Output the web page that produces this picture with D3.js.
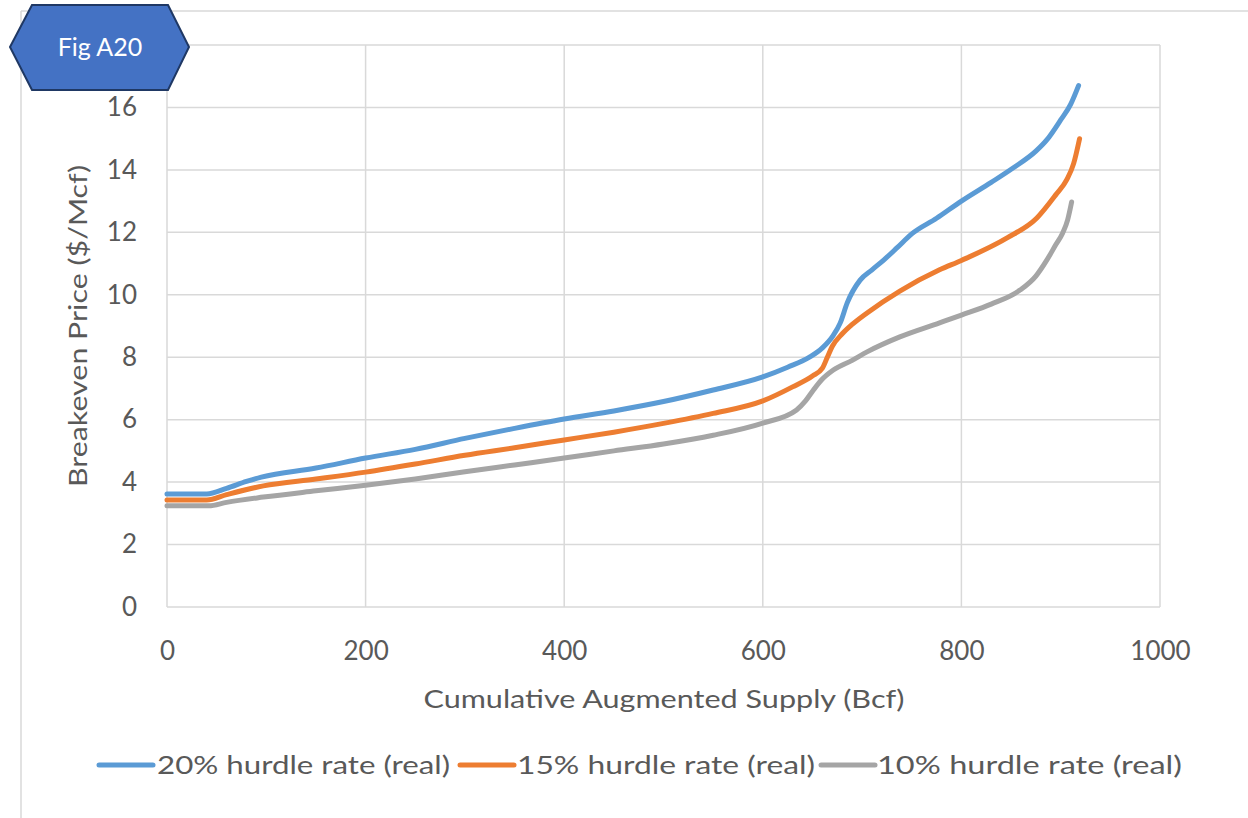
<!DOCTYPE html>
<html>
<head>
<meta charset="utf-8">
<script src="https://cdn.jsdelivr.net/npm/d3@7"></script>
<style>
  html, body { margin: 0; padding: 0; background: #fff; }
  svg { display: block; font-family: Lato, "Open Sans", sans-serif; }
</style>
</head>
<body>
<svg id="chart" width="1248" height="818"></svg>
<script>
// Breakeven price supply curves by hurdle rate
const seriesNames = ["20% hurdle rate (real)", "15% hurdle rate (real)", "10% hurdle rate (real)"];
const seriesColors = ["#5B9BD5", "#ED7D31", "#A5A5A5"];

// Cumulative supply (Bcf) and breakeven price ($/Mcf) for each curve
const supply20 = [0, 40, 60, 80, 95, 150, 200, 250, 300, 350, 400, 450, 500, 550, 600, 625, 647, 660, 671, 678, 685, 698, 710, 722, 735, 750, 775, 800, 830, 852, 875, 886, 900, 910, 918];
const price20  = [3.62, 3.62, 3.8, 4.02, 4.16, 4.45, 4.77, 5.05, 5.4, 5.72, 6.02, 6.28, 6.58, 6.95, 7.37, 7.68, 8.0, 8.3, 8.7, 9.1, 9.74, 10.47, 10.8, 11.12, 11.5, 11.95, 12.45, 13.0, 13.6, 14.06, 14.6, 14.96, 15.6, 16.1, 16.7];

const supply15 = [0, 40, 60, 97, 150, 200, 250, 300, 350, 400, 450, 500, 550, 600, 630, 650, 660, 665, 670, 680, 690, 705, 738, 778, 800, 846, 876, 895, 906, 913, 919];
const price15  = [3.43, 3.43, 3.6, 3.88, 4.1, 4.32, 4.58, 4.86, 5.1, 5.35, 5.6, 5.88, 6.2, 6.6, 7.05, 7.4, 7.65, 8.0, 8.35, 8.75, 9.05, 9.42, 10.12, 10.8, 11.1, 11.82, 12.46, 13.2, 13.68, 14.2, 15.0];

const supply10 = [0, 42, 60, 97, 150, 200, 250, 300, 350, 400, 450, 500, 550, 600, 634, 643, 651, 660, 671, 690, 705, 738, 778, 800, 830, 859, 875, 886, 895, 902, 907, 911];
const price10  = [3.24, 3.24, 3.35, 3.52, 3.72, 3.9, 4.1, 4.33, 4.55, 4.77, 5.0, 5.22, 5.5, 5.89, 6.31, 6.6, 6.95, 7.3, 7.59, 7.9, 8.17, 8.65, 9.1, 9.35, 9.7, 10.15, 10.6, 11.11, 11.6, 11.98, 12.4, 12.97];

const xTicks = [0, 200, 400, 600, 800, 1000];
const yGrid = [0, 2, 4, 6, 8, 10, 12, 14, 16, 18];
const yTickLabels = [0, 2, 4, 6, 8, 10, 12, 14, 16];

const xTitle = "Cumulative Augmented Supply (Bcf)";
const yTitle = "Breakeven Price ($/Mcf)";
const badgeText = "Fig A20";

const series = [
  { name: seriesNames[0], color: seriesColors[0], pts: supply20.map((s, i) => [s, price20[i]]) },
  { name: seriesNames[1], color: seriesColors[1], pts: supply15.map((s, i) => [s, price15[i]]) },
  { name: seriesNames[2], color: seriesColors[2], pts: supply10.map((s, i) => [s, price10[i]]) }
];

const svg = d3.select("#chart");
const textColor = "#595959";
const gridColor = "#D9D9D9";

// outer chart frame (top and left edges visible)
svg.append("line").attr("x1", 21).attr("x2", 1248).attr("y1", 11).attr("y2", 11)
  .attr("stroke", gridColor).attr("stroke-width", 1.5);
svg.append("line").attr("x1", 21).attr("x2", 21).attr("y1", 11).attr("y2", 818)
  .attr("stroke", gridColor).attr("stroke-width", 1.5);

const x = d3.scaleLinear().domain([0, 1000]).range([167, 1160]);
const y = d3.scaleLinear().domain([0, 18]).range([607, 45]);

// grid
const grid = svg.append("g");
grid.selectAll(".gx").data(xTicks).join("line")
  .attr("x1", d => x(d)).attr("x2", d => x(d))
  .attr("y1", y(0)).attr("y2", y(18))
  .attr("stroke", gridColor).attr("stroke-width", 1.5);
grid.selectAll(".gy").data(yGrid).join("line")
  .attr("x1", x(0)).attr("x2", x(1000))
  .attr("y1", d => y(d)).attr("y2", d => y(d))
  .attr("stroke", gridColor).attr("stroke-width", 1.5);

// axes (labels only; grid draws the lines)
const xAxis = svg.append("g").attr("transform", `translate(0,${y(0)})`)
  .call(d3.axisBottom(x).tickValues(xTicks).tickSize(0).tickPadding(35).tickFormat(d3.format("d")));
const yAxis = svg.append("g").attr("transform", `translate(${x(0)},0)`)
  .call(d3.axisLeft(y).tickValues(yTickLabels).tickSize(0).tickPadding(30).tickFormat(d3.format("d")));
[xAxis, yAxis].forEach(a => {
  a.select(".domain").remove();
  a.selectAll("text").attr("fill", textColor).style("font-size", "26px")
    .style("font-family", "Lato, 'Open Sans', sans-serif");
});

// curves
const line = d3.line().x(d => x(d[0])).y(d => y(d[1])).curve(d3.curveMonotoneX);
svg.append("g").selectAll("path").data(series).join("path")
  .attr("d", d => line(d.pts))
  .attr("fill", "none")
  .attr("stroke", d => d.color)
  .attr("stroke-width", 5)
  .attr("stroke-linecap", "round")
  .attr("stroke-linejoin", "round");

// axis titles
svg.append("text").attr("x", 664).attr("y", 708).attr("text-anchor", "middle")
  .attr("fill", textColor).style("font-size", "25px")
  .attr("textLength", 481).attr("lengthAdjust", "spacingAndGlyphs")
  .text(xTitle);
svg.append("text").attr("transform", "translate(87,326) rotate(-90)")
  .attr("text-anchor", "middle").attr("fill", textColor).style("font-size", "25px")
  .attr("textLength", 322).attr("lengthAdjust", "spacingAndGlyphs")
  .text(yTitle);

// legend
const legendItems = [
  { sx: 99, tx: 157, tw: 293 },
  { sx: 460, tx: 517, tw: 298 },
  { sx: 821, tx: 877, tw: 305 }
];
const lg = svg.append("g");
series.forEach((s, i) => {
  const it = legendItems[i];
  lg.append("line").attr("x1", it.sx).attr("x2", it.sx + 54).attr("y1", 765).attr("y2", 765)
    .attr("stroke", s.color).attr("stroke-width", 5).attr("stroke-linecap", "round");
  lg.append("text").attr("x", it.tx).attr("y", 774).attr("fill", textColor)
    .style("font-size", "25px")
    .attr("textLength", it.tw).attr("lengthAdjust", "spacingAndGlyphs")
    .text(s.name);
});

// figure badge
const badge = svg.append("g");
badge.append("polygon")
  .attr("points", [[10, 47], [32, 5], [168, 5], [189, 47], [168, 90], [32, 90]].map(p => p.join(",")).join(" "))
  .attr("fill", "#4472C4").attr("stroke", "#1F3864").attr("stroke-width", 2);
badge.append("text").attr("x", 100).attr("y", 56).attr("text-anchor", "middle")
  .attr("fill", "#fff").style("font-size", "25px").text(badgeText);
</script>
</body>
</html>
